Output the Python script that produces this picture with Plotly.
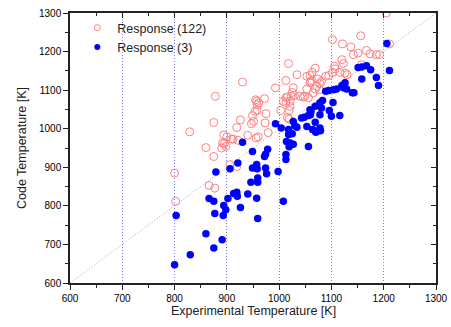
import plotly.graph_objects as go

# Response (122) - open red circles
red_x = [800, 802, 829, 860, 866, 877, 875, 875, 878, 892, 890, 898, 894, 900, 909, 895, 906, 919,
         912, 919, 926, 921, 930, 940, 947, 949, 951, 957, 958, 958, 960, 956, 972, 954, 975, 973,
         979, 955, 961, 993, 1013, 1018, 1034, 1003, 1008, 1019, 1013, 1021, 1019, 1016, 1027, 1025,
         1029, 1023, 1016, 1021, 1013, 1046, 1056, 1065, 1040, 1049, 1069, 1063, 1059, 1053, 1073,
         1063, 1059, 1060, 1081, 1078, 1072, 1069, 1077, 1053, 1102, 1121, 1137, 1142, 1120, 1123,
         1106, 1107, 1102, 1095, 1089, 1116, 1126, 1130, 1156, 1151, 1167, 1174, 1186, 1192, 1211,
         1158, 1205]
red_y = [885, 812, 992, 951, 853, 846, 928, 1016, 1084, 963, 950, 954, 984, 979, 973, 961, 907, 902,
         973, 1003, 1023, 970, 1121, 983, 1013, 1034, 1019, 1071, 1062, 1048, 979, 976, 1078, 1045,
         1039, 1015, 990, 1075, 1067, 1106, 1125, 1169, 1140, 1047, 1071, 1047, 1081, 1058, 1025,
         1029, 1106, 1094, 1086, 1084, 1082, 1071, 1068, 1082, 1080, 1093, 1084, 1084, 1157, 1146,
         1138, 1136, 1129, 1125, 1119, 1123, 1123, 1117, 1110, 1103, 1101, 1103, 1231, 1220, 1212,
         1192, 1179, 1169, 1162, 1155, 1146, 1138, 1136, 1146, 1144, 1140, 1241, 1196, 1203, 1194,
         1192, 1192, 1220, 1166, 1300]

# Response (3) - filled blue circles
blue_x = [800, 830, 860, 875, 891, 803, 877, 893, 926, 894, 898, 866, 875, 902, 913, 919, 920, 940,
          957, 959, 879, 906, 921, 930, 949, 957, 949, 958, 946, 959, 959, 1008, 998, 974, 976, 978,
          974, 972, 993, 1004, 1018, 1018, 1025, 1014, 1021, 1027, 1019, 1013, 1013, 1056, 1027,
          1030, 1034, 1053, 1069, 1064, 1072, 1078, 1079, 1070, 1043, 1048, 1059, 1060, 1078, 1096,
          1100, 1116, 1083, 1078, 1103, 1069, 1081, 1061, 1056, 1126, 1120, 1123, 1129, 1110, 1104,
          1095, 1089, 1140, 1143, 1151, 1158, 1167, 1175, 1158, 1186, 1190, 1206, 1211]
blue_y = [647, 673, 728, 691, 712, 775, 780, 775, 796, 801, 790, 819, 812, 819, 832, 835, 825, 831,
          820, 767, 888, 896, 911, 965, 941, 907, 898, 896, 861, 872, 861, 812, 889, 898, 883, 947,
          934, 928, 1013, 1002, 998, 985, 987, 967, 963, 960, 953, 933, 920, 954, 1019, 1008, 1004,
          1006, 1017, 998, 993, 1002, 995, 991, 1028, 1030, 1049, 1036, 1036, 1047, 1032, 1034, 1073,
          1067, 1068, 1058, 1054, 1045, 1034, 1119, 1112, 1106, 1103, 1103, 1101, 1099, 1097, 1093,
          1093, 1159, 1160, 1163, 1153, 1129, 1133, 1112, 1221, 1151]

diag = [600, 1300]
x_ticks = [600, 700, 800, 900, 1000, 1100, 1200, 1300]
y_ticks = [600, 700, 800, 900, 1000, 1100, 1200, 1300]
series_names = ["Response (122)", "Response (3)"]
x_title = "Experimental Temperature [K]"
y_title = "Code Temperature [K]"

FONT = "Liberation Sans, Arial, sans-serif"
RED = "#ff8080"
BLUE = "#0000ff"

fig = go.Figure()
fig.add_trace(go.Scatter(x=diag, y=diag, mode="lines", showlegend=False, hoverinfo="skip",
                         line=dict(color="#a8a8a8", width=1, dash="1px,2px")))
fig.add_trace(go.Scatter(x=red_x, y=red_y, mode="markers", name=series_names[0], showlegend=False,
                         marker=dict(symbol="circle-open", size=8, color=RED,
                                     line=dict(width=1, color=RED))))
fig.add_trace(go.Scatter(x=blue_x, y=blue_y, mode="markers", name=series_names[1], showlegend=False,
                         marker=dict(symbol="circle", size=7.5, color=BLUE)))
# legend entries with smaller symbols, as in the reference
fig.add_trace(go.Scatter(x=[None], y=[None], mode="markers", name=series_names[0],
                         marker=dict(symbol="circle-open", size=6, color=RED,
                                     line=dict(width=1, color=RED))))
fig.add_trace(go.Scatter(x=[None], y=[None], mode="markers", name=series_names[1],
                         marker=dict(symbol="circle", size=6, color=BLUE)))
# invisible trace to host mirrored inner ticks on top/right
fig.add_trace(go.Scatter(x=diag, y=diag, xaxis="x2", yaxis="y2", mode="markers",
                         marker=dict(opacity=0), showlegend=False, hoverinfo="skip"))

axis_common = dict(showline=True, linecolor="#222", linewidth=1.5, zeroline=False,
                   automargin=False,
                   ticks="outside", ticklen=5, tickwidth=1.2, tickcolor="#222",
                   tickfont=dict(family=FONT, size=10, color="#000"),
                   minor=dict(ticks="outside", ticklen=3, tickwidth=1, tickcolor="#222", dtick=50))

mirror_common = dict(range=[600, 1300], showticklabels=False, showgrid=False, zeroline=False,
                     showline=True, automargin=False, linecolor="#222", linewidth=1.5,
                     ticks="inside", ticklen=5, tickwidth=1.2, tickcolor="#222",
                     minor=dict(ticks="inside", ticklen=3, tickwidth=1, tickcolor="#222", dtick=50))

fig.update_layout(
    width=451, height=327,
    margin=dict(l=70, r=15, t=13, b=44, autoexpand=False),
    paper_bgcolor="white", plot_bgcolor="white",
    font=dict(family=FONT, color="#000"),
    xaxis=dict(range=[600, 1300], tickvals=x_ticks, showgrid=True, gridcolor="#7a7aff",
               griddash="1px,2px", gridwidth=1, **axis_common),
    yaxis=dict(range=[600, 1300], tickvals=y_ticks, showgrid=False, **axis_common),
    xaxis2=dict(overlaying="x", side="top", tickvals=x_ticks, **mirror_common),
    yaxis2=dict(overlaying="y", side="right", tickvals=y_ticks, **mirror_common),
    legend=dict(x=0.02, y=1.0, xanchor="left", yanchor="top", bgcolor="rgba(0,0,0,0)",
                font=dict(family=FONT, size=12.5, color="#222"), tracegroupgap=0,
                itemwidth=30),
    annotations=[
        dict(text=x_title, xref="paper", yref="paper", x=0.5, y=-0.104, xanchor="center",
             yanchor="middle", showarrow=False, font=dict(family=FONT, size=12.5, color="#222")),
        dict(text=y_title, xref="paper", yref="paper", x=-0.131, y=0.5, xanchor="center",
             yanchor="middle", textangle=-90, showarrow=False,
             font=dict(family=FONT, size=12.5, color="#222")),
    ],
    showlegend=True,
)

fig.write_html("out.html")
